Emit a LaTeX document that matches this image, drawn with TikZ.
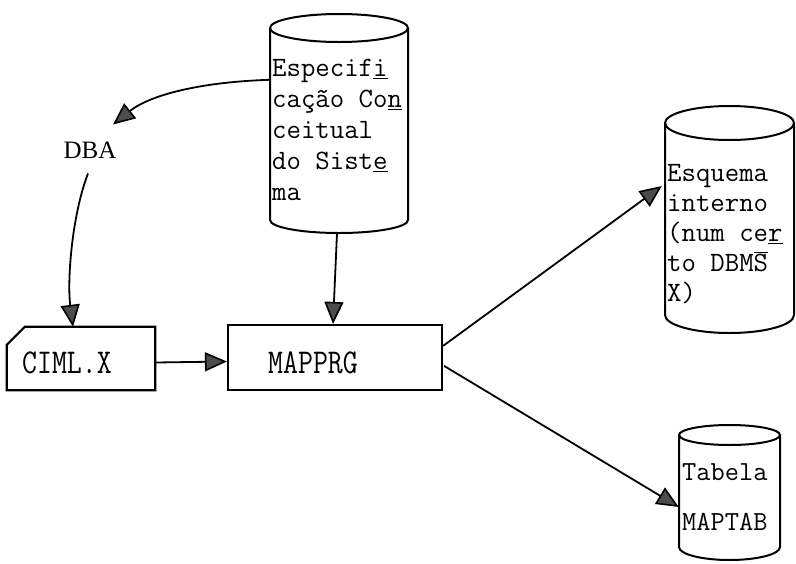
\documentclass[tikz,border=0pt]{standalone}
\usepackage{fontspec}
\newfontfamily\dbafont{Liberation Serif}
\usetikzlibrary{arrows.meta,calc}
\begin{document}
\begin{tikzpicture}[x=1pt,y=-1pt,
  outl/.style={line width=2pt},
  conn/.style={line width=1.8pt,-{Triangle[length=22pt,width=19pt,fill=black!70,line width=1.6pt]}},
  cylbody/.style={inner sep=0pt,draw=none},
  progbox/.style={line width=2.2pt,inner sep=0pt},
  twtext/.style={inner sep=0pt,align=left,font=\ttfamily\fontsize{28}{31}\selectfont},
  progtext/.style={inner sep=0pt,font=\ttfamily\fontsize{29}{30}\selectfont}
]
\useasboundingbox (0,0) rectangle (796,563);

% --- Especificacao Conceitual cylinder
\draw[outl] (270,28) -- (270,220) arc[start angle=180,end angle=0,x radius=69,y radius=13] -- (408,28);
\draw[outl] (339,28) ellipse[x radius=69,y radius=14];
\node[cylbody,minimum width=138pt,minimum height=192pt] (spec) at (339,124) {};
\node[twtext,anchor=north west] (spectxt) at (272,59)
  {Especif\underline{i}\\cação Co\underline{n}\\ceitual\\do Sist\underline{e}\\ma};

% --- Esquema interno cylinder
\draw[outl] (665,123) -- (665,315) arc[start angle=180,end angle=0,x radius=64.5,y radius=18] -- (794,123);
\draw[outl] (729.5,123) ellipse[x radius=64.5,y radius=17];
\node[cylbody,minimum width=129pt,minimum height=192pt] (esq) at (729.5,219) {};
\node[twtext,anchor=north west,font=\ttfamily\fontsize{28}{30}\selectfont] (esqtxt) at (667,164)
  {Esquema\\interno\\(num ce\underline{r}\\to DBM$\overline{\hbox{S}}$\\X)};

% --- Tabela MAPTAB cylinder
\draw[outl] (679,435) -- (679,547) arc[start angle=180,end angle=0,x radius=50.5,y radius=13] -- (780,435);
\draw[outl] (729.5,435) ellipse[x radius=50.5,y radius=10];
\node[cylbody,minimum width=101pt,minimum height=112pt] (tab) at (729.5,491) {};
\node[twtext,anchor=north west,font=\ttfamily\fontsize{27.6}{50}\selectfont] (tabtxt) at (682,463)
  {Tabela\\MAPTAB};

% --- DBA
\node[inner sep=3pt,font=\dbafont\fontsize{25}{28}\selectfont] (dba) at (90,150) {DBA};

% --- program boxes
\node[cylbody,minimum width=148pt,minimum height=63pt,
      label={[progtext,xshift=-14pt,yshift=-4pt]center:\scalebox{1}[1.2]{CIML.X}}] (ciml) at (81,358.5) {};
\draw[progbox] ($(ciml.north west)+(0,18)$) -- ($(ciml.north west)+(18,0)$) -- (ciml.north east)
  -- (ciml.south east) -- (ciml.south west) -- cycle;
\node[draw,progbox,minimum width=214pt,minimum height=65pt,
      label={[progtext,xshift=-22pt,yshift=-5pt]center:\scalebox{1}[1.2]{MAPPRG}}] (map) at (335,357.5) {};

% --- connectors
\draw[conn] ($(spec.north west)+(0,52)$) .. controls (200,82) and (150,95) .. ($(dba.north)+(23,-14)$);
\draw[conn] ($(dba.south)+(-2,12)$) .. controls (72,215) and (67,280) .. ($(ciml.north)+(-8,0)$);
\draw[conn] ($(ciml.east)+(0,4)$) -- ($(map.west)+(0,4)$);
\draw[conn] ($(spec.south)+(-2,13)$) -- ($(map.north)+(-2,0)$);
\draw[conn] ($(map.north east)+(0,22)$) -- ($(esq.west)+(-3,-33)$);
\draw[conn] ($(map.north east)+(1,42)$) -- ($(tab.west)+(0,16)$);
\end{tikzpicture}
\end{document}
